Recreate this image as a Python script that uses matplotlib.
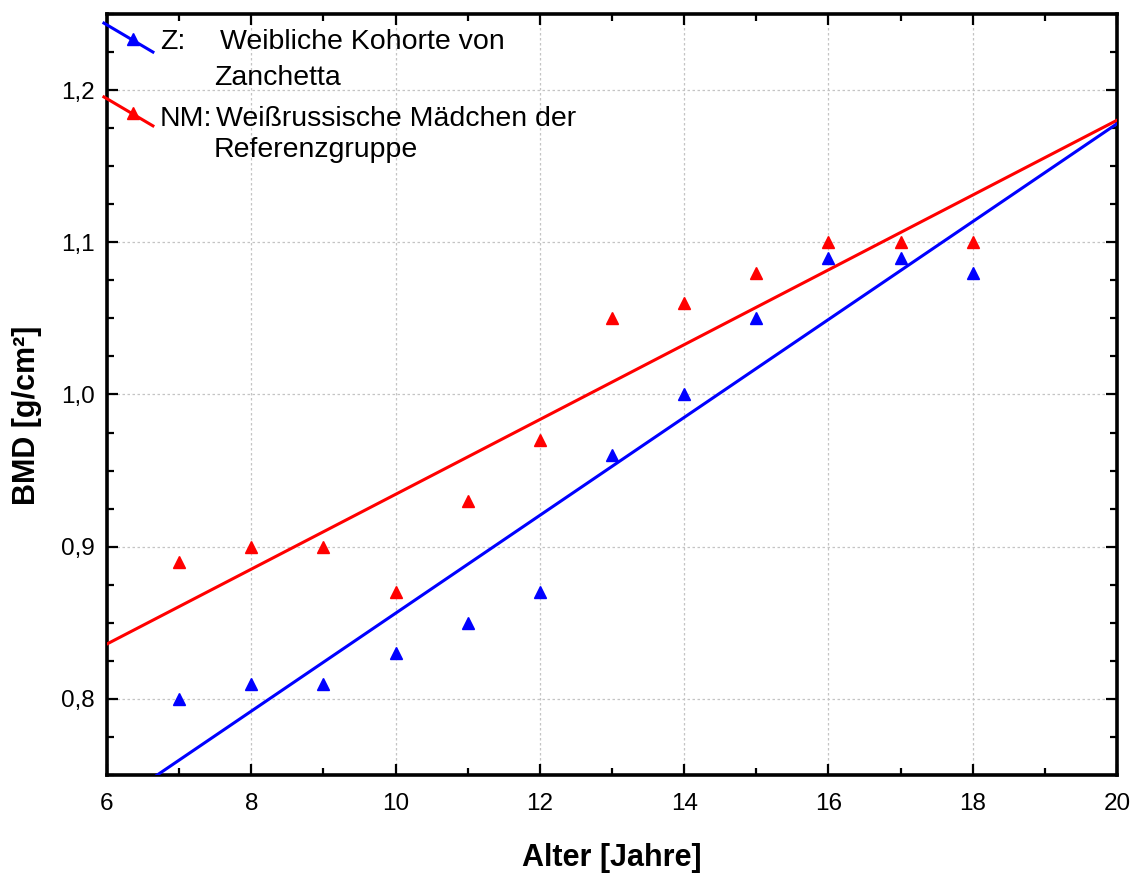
import numpy as np
import matplotlib
matplotlib.use('Agg')
import matplotlib.pyplot as plt
from matplotlib.ticker import MultipleLocator, FuncFormatter

plt.rcParams['font.family'] = ['Liberation Sans', 'DejaVu Sans']

# Alter in Jahren und BMD-Mittelwerte je Gruppe
alter = [7, 8, 9, 10, 11, 12, 13, 14, 15, 16, 17, 18]
bmd_z = [0.80, 0.81, 0.81, 0.83, 0.85, 0.87, 0.96, 1.00, 1.05, 1.09, 1.09, 1.08]
bmd_nm = [0.89, 0.90, 0.90, 0.87, 0.93, 0.97, 1.05, 1.06, 1.08, 1.10, 1.10, 1.10]

fig = plt.figure(figsize=(11.33, 8.74), dpi=100)
ax = fig.add_axes([0.0944, 0.1133, 0.8915, 0.8707])

xs = np.linspace(6, 20, 200)
for y, col in ((bmd_nm, 'red'), (bmd_z, 'blue')):
	k, d = np.polyfit(alter, y, 1)
	ax.plot(xs, k * xs + d, color=col, lw=2.2, zorder=3)
	ax.plot(alter, y, '^', color=col, ms=9, mec=col, zorder=4)

ax.set_xlim(6, 20)
ax.set_ylim(0.75, 1.25)
ax.xaxis.set_major_locator(MultipleLocator(2))
ax.xaxis.set_minor_locator(MultipleLocator(1))
ax.yaxis.set_major_locator(MultipleLocator(0.1))
ax.yaxis.set_minor_locator(MultipleLocator(0.025))
ax.yaxis.set_major_formatter(FuncFormatter(lambda v, p: ('%.1f' % v).replace('.', ',')))
ax.tick_params(which='both', direction='in', top=True, right=True, width=1.6, colors='black')
ax.tick_params(which='major', length=8, labelsize=17.5)
ax.tick_params(axis='x', which='major', pad=13)
ax.tick_params(axis='y', which='major', pad=9)
ax.tick_params(which='minor', length=5)
ax.grid(True, which='major', ls=(0, (2, 2)), color='#c4c4c4', lw=0.9)
for s in ax.spines.values():
	s.set_linewidth(2.6)

ax.set_xlabel('Alter [Jahre]', fontsize=22, fontweight='bold')
ax.set_ylabel('BMD [g/cm²]', fontsize=22, fontweight='bold')
ax.xaxis.set_label_coords(0.5, -0.089)
ax.yaxis.set_label_coords(-0.064, 0.473)

# Legende mit schraegen Linienmustern
leg = [('blue', 0.988, 0.950, 0.967, 0.954, 'Z:', 'Weibliche Kohorte von', 0.112, 'Zanchetta', 0.9067),
	('red', 0.891, 0.853, 0.870, 0.8528, 'NM:', 'Weißrussische Mädchen der', 0.108, 'Referenzgruppe', 0.812)]
for col, y0, y1, ym, yt, kurz, zeile1, xt, zeile2, yt2 in leg:
	ax.plot([-0.003, 0.0455], [y0, y1], color=col, lw=2.2, transform=ax.transAxes, clip_on=False, zorder=5)
	ax.plot([0.0257], [ym], '^', color=col, ms=9, transform=ax.transAxes, clip_on=False, zorder=5)
	ax.text(0.0525, yt, kurz, transform=ax.transAxes, fontsize=20.5, va='baseline')
	ax.text(xt, yt, zeile1, transform=ax.transAxes, fontsize=20.5, va='baseline')
	ax.text(0.106, yt2, zeile2, transform=ax.transAxes, fontsize=20.5, va='baseline')

fig.savefig('out.png', dpi=100)
